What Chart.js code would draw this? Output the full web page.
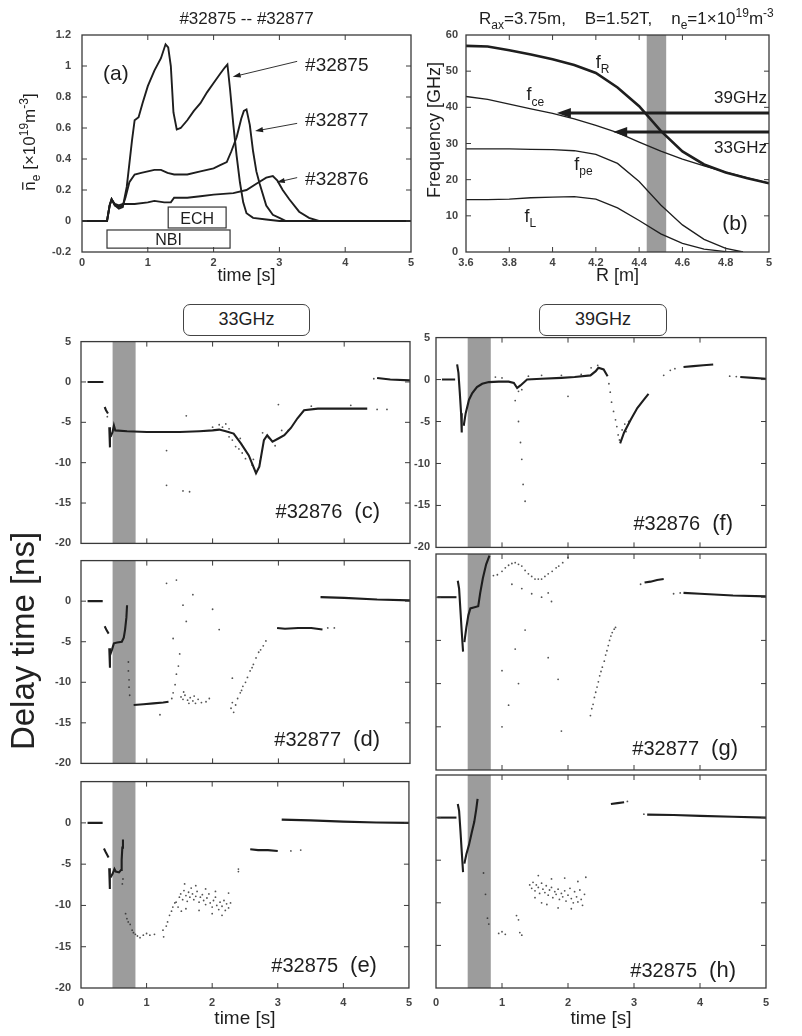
<!DOCTYPE html>
<html>
<head>
<meta charset="utf-8">
<script src="https://cdn.jsdelivr.net/npm/chart.js@4.4.1/dist/chart.umd.min.js"></script>
<style>
  body { margin: 0; background: #fff; width: 802px; height: 1036px; position: relative; overflow: hidden;
         font-family: "Liberation Sans", Arial, sans-serif; color: #222; }
  canvas { position: absolute; }
  .tag { position: absolute; box-sizing: border-box; border: 1.5px solid #444; border-radius: 7px;
         text-align: center; font-size: 18px; line-height: 28px; background: #fff; }
  #delay { position: absolute; width: 260px; height: 40px; line-height: 40px; text-align: center;
           font-size: 33px; left: -107px; top: 621px; transform: rotate(-90deg); }
</style>
</head>
<body>
<canvas id="pa"></canvas>
<canvas id="pb"></canvas>
<canvas id="pc"></canvas>
<canvas id="pd"></canvas>
<canvas id="pe"></canvas>
<canvas id="pf"></canvas>
<canvas id="pg"></canvas>
<canvas id="ph"></canvas>
<div class="tag" style="left:183px;top:304px;width:127px;height:32px;">33GHz</div>
<div class="tag" style="left:539px;top:304px;width:128px;height:32px;">39GHz</div>
<div id="delay">Delay time [ns]</div>
<script>
// ---- (a) line averaged density, time [s] / 10^19 m^-3
const t32875 = [0, 0.38, 0.42, 0.45, 0.5, 0.56, 0.62, 0.68, 0.76, 0.8, 0.86, 0.92, 1.0, 1.1, 1.2, 1.27, 1.31, 1.35, 1.39, 1.44, 1.5, 1.6, 1.7, 1.8, 1.9, 2.0, 2.1, 2.17, 2.21, 2.25, 2.3, 2.35, 2.4, 2.45, 2.5, 2.6, 2.8, 3.0, 5.0];
const ne32875 = [0, 0, 0.1, 0.14, 0.1, 0.08, 0.09, 0.22, 0.52, 0.65, 0.67, 0.76, 0.87, 0.97, 1.05, 1.14, 1.12, 1.0, 0.7, 0.59, 0.6, 0.65, 0.71, 0.76, 0.83, 0.89, 0.95, 0.99, 1.01, 0.85, 0.62, 0.42, 0.25, 0.12, 0.05, 0.02, 0.01, 0, 0];
const t32877 = [0, 0.38, 0.42, 0.45, 0.5, 0.56, 0.62, 0.66, 0.72, 0.8, 0.9, 1.0, 1.1, 1.2, 1.3, 1.4, 1.6, 1.8, 2.0, 2.1, 2.2, 2.27, 2.35, 2.42, 2.46, 2.5, 2.55, 2.6, 2.65, 2.7, 2.8, 2.9, 3.0, 3.1, 5.0];
const ne32877 = [0, 0, 0.1, 0.14, 0.1, 0.09, 0.1, 0.15, 0.25, 0.3, 0.31, 0.32, 0.33, 0.33, 0.31, 0.3, 0.3, 0.32, 0.34, 0.36, 0.38, 0.45, 0.54, 0.66, 0.71, 0.72, 0.62, 0.45, 0.32, 0.24, 0.1, 0.04, 0.02, 0, 0];
const t32876 = [0, 0.38, 0.42, 0.45, 0.5, 0.56, 0.62, 0.8, 1.0, 1.1, 1.25, 1.35, 1.4, 1.6, 1.8, 2.0, 2.3, 2.5, 2.65, 2.8, 2.9, 2.97, 3.05, 3.15, 3.3, 3.45, 3.6, 5.0];
const ne32876 = [0, 0, 0.1, 0.14, 0.11, 0.1, 0.11, 0.11, 0.12, 0.13, 0.12, 0.12, 0.15, 0.15, 0.16, 0.17, 0.18, 0.2, 0.24, 0.28, 0.29, 0.26, 0.2, 0.14, 0.06, 0.02, 0, 0];
const echOn = [1.31, 2.19];
const nbiOn = [0.38, 2.25];

// ---- (b) characteristic frequencies vs R [m]
const rOuter = [3.6, 3.7, 3.8, 3.9, 4.0, 4.1, 4.2, 4.3, 4.4, 4.5, 4.6, 4.7, 4.8, 4.9, 5.0];
const fR  = [57, 56.8, 55.8, 54.6, 53.3, 51.7, 49.5, 45.5, 40.3, 33.5, 27.8, 24.2, 22.0, 20.4, 19.0];
const fce = [43, 42.2, 40.9, 39.6, 38.3, 36.8, 35.0, 33.0, 30.4, 27.9, 25.7, 23.8, 22.1, 20.5, 19.0];
const rInner = [3.6, 3.7, 3.8, 3.9, 4.0, 4.1, 4.2, 4.3, 4.4, 4.5, 4.6, 4.7, 4.8, 4.88];
const fpe = [28.5, 28.5, 28.5, 28.4, 28.3, 28.0, 27.0, 24.5, 19.5, 13.0, 7.5, 3.5, 1.0, 0.0];
const fL  = [14.5, 14.5, 14.6, 15.0, 15.2, 15.3, 14.6, 12.2, 8.7, 5.0, 2.4, 0.8, 0.1, 0.0];
const probeFreq = [38.4, 33.2];
const probeName = ['39GHz', '33GHz'];
const cutoffR = [4.02, 4.28];
const layerR = [4.435, 4.525];

// ---- (c)-(h) delay time [ns] vs time [s]
const ecrWindow = [0.48, 0.83];

const tracesC = [
  [[0.1, 0], [0.34, 0]],
  [[0.36, -3.1], [0.38, -3.5], [0.41, -3.9]],
  [[0.43, -5.6], [0.44, -8.1]],
  [[0.45, -6.8], [0.48, -6.2], [0.5, -5.4], [0.52, -6.0], [0.7, -6.1], [1.0, -6.2], [1.3, -6.2], [1.5, -6.2], [1.8, -6.1], [2.0, -6.0], [2.1, -5.9], [2.2, -6.1], [2.32, -6.4], [2.43, -7.6], [2.55, -9.1], [2.66, -11.3], [2.71, -10.5], [2.78, -7.2], [2.83, -6.6], [2.91, -7.4], [3.0, -7.0], [3.09, -6.6], [3.19, -5.7], [3.29, -4.5], [3.39, -3.5], [3.6, -3.3], [4.0, -3.3], [4.35, -3.3]],
  [[4.5, 0.5], [4.7, 0.3], [5.0, 0.2]]
];
const cloudC = [[2.1, -5.3], [2.15, -5.6], [2.2, -5.2], [2.25, -6.8], [2.3, -7.2], [2.35, -8.0], [2.4, -8.3], [2.42, -7.0], [2.5, -9.5], [2.6, -10.3], [2.72, -9.8], [2.76, -6.3], [2.85, -6.9], [2.95, -7.9], [3.05, -6.0], [1.3, -8.5], [1.3, -12.8], [1.55, -13.5], [1.65, -13.6], [1.6, -4.2], [4.5, -3.4], [4.65, -3.4], [3.0, -2.8], [3.5, -3.0], [4.1, -2.9], [0.4, -4.3], [2.0, -5.6], [2.25, -5.8], [2.45, -8.8], [2.62, -9.6], [3.15, -6.0], [4.45, 0.4]];

const tracesD = [
  [[0.1, 0], [0.33, 0]],
  [[0.36, -3.1], [0.39, -3.6], [0.42, -4.0]],
  [[0.43, -5.8], [0.44, -8.2]],
  [[0.44, -6.7], [0.47, -6.0], [0.5, -5.2], [0.55, -5.1], [0.62, -5.0], [0.65, -4.5], [0.67, -3.5], [0.69, -2.0], [0.7, -0.5]],
  [[0.8, -12.8], [0.95, -12.7], [1.1, -12.6], [1.25, -12.5], [1.33, -12.4]],
  [[2.98, -3.3], [3.1, -3.4], [3.3, -3.3], [3.5, -3.3], [3.67, -3.5]],
  [[3.64, 0.5], [4.0, 0.4], [4.5, 0.2], [5.0, 0.1]]
];
const cloudD = [[0.72, -7.5], [0.72, -8.6], [0.73, -9.7], [0.73, -10.6], [0.74, -11.6], [1.38, -12.0], [1.4, -11.3], [1.43, -10.3], [1.45, -9.0], [1.48, -8.0], [1.52, -11.8], [1.55, -12.1], [1.58, -11.6], [1.62, -12.2], [1.66, -11.9], [1.7, -12.3], [1.74, -12.6], [1.78, -12.1], [1.83, -12.5], [1.9, -12.4], [1.56, -11.2], [1.64, -12.6], [1.72, -11.7],
  [2.28, -13.2], [2.32, -13.7], [2.35, -12.8], [2.38, -12.0], [2.42, -11.3], [2.46, -10.5], [2.5, -10.0], [2.53, -9.4], [2.57, -8.6], [2.62, -7.8], [2.66, -7.0], [2.7, -6.3], [2.73, -6.0], [2.77, -5.5], [2.81, -4.9], [2.3, -12.5], [2.44, -11.0], [2.6, -8.2],
  [1.3, 2.2], [1.45, 2.6], [1.55, -0.5], [1.6, -2.5], [1.7, 0.8], [2.0, -1.0], [1.4, -4.6], [1.5, -6.5], [2.1, -3.5], [2.3, -9.5], [1.95, -12.0], [1.2, -14.0], [3.75, -3.3], [3.85, -3.3]];

const tracesE = [
  [[0.1, 0], [0.33, 0]],
  [[0.35, -3.1], [0.38, -3.6], [0.42, -4.2]],
  [[0.43, -5.5], [0.44, -8.0]],
  [[0.45, -6.6], [0.48, -6.2], [0.51, -5.6], [0.53, -5.9], [0.58, -6.0], [0.61, -5.7], [0.62, -4.5], [0.63, -3.0], [0.64, -2.0]],
  [[2.58, -3.2], [2.7, -3.3], [2.85, -3.3], [3.0, -3.4]],
  [[3.06, 0.4], [3.5, 0.3], [4.0, 0.15], [4.5, 0.05], [5.0, 0.0]]
];
const cloudE = [[0.63, -7.4], [0.64, -6.8], [0.68, -11.0], [0.7, -11.6], [0.72, -12.0], [0.75, -12.3], [0.78, -13.0], [0.8, -13.3], [0.83, -13.5], [0.86, -13.7], [0.9, -13.9], [0.95, -13.6], [1.0, -13.4], [1.05, -13.6], [1.12, -13.5], [1.25, -13.0], [1.26, -13.8], [1.3, -12.5], [1.32, -12.0], [1.35, -11.2], [1.38, -10.7], [1.4, -10.2], [1.43, -9.7],
  [1.45, -9.6], [1.48, -10.2], [1.5, -9.0], [1.52, -8.6], [1.55, -9.3], [1.57, -8.2], [1.6, -8.8], [1.62, -9.5], [1.64, -8.4], [1.66, -9.0], [1.68, -7.9], [1.7, -8.6], [1.72, -9.3], [1.75, -8.9], [1.77, -8.3], [1.8, -9.6], [1.82, -9.0], [1.85, -8.7], [1.87, -9.4], [1.9, -9.9], [1.92, -9.1], [1.95, -8.6], [1.97, -9.7], [2.0, -10.2], [2.02, -9.4], [2.05, -9.0], [2.07, -10.0], [2.1, -10.5], [2.12, -9.6], [2.15, -10.1], [2.18, -9.4], [2.2, -10.6], [2.22, -9.8], [2.25, -10.3], [2.28, -9.7], [1.58, -7.4], [1.75, -7.6], [1.9, -8.0], [2.05, -8.3], [2.25, -8.5], [1.6, -10.4], [1.8, -10.6], [2.0, -11.0], [1.53, -10.7], [2.15, -11.2],
  [2.4, -5.6], [2.4, -5.9], [3.2, -3.4], [3.35, -3.3]];

const tracesF = [
  [[0.09, 0], [0.29, 0]],
  [[0.32, 1.8], [0.34, 0.8], [0.36, -1.5], [0.38, -4.0], [0.39, -6.3]],
  [[0.42, -5.5], [0.45, -4.0], [0.5, -2.4], [0.55, -1.6], [0.62, -0.9], [0.7, -0.5], [0.8, -0.3], [0.95, -0.25], [1.1, -0.25], [1.18, -0.4], [1.23, -1.0], [1.28, -0.7], [1.38, 0.0], [1.6, 0.1], [1.9, 0.2], [2.1, 0.3], [2.34, 0.5], [2.42, 1.0], [2.46, 1.4], [2.54, 1.2], [2.6, 0.4]],
  [[2.79, -7.6], [2.85, -6.3], [2.95, -4.8], [3.05, -3.4], [3.15, -2.4], [3.22, -1.7]],
  [[3.75, 1.5], [3.9, 1.6], [4.05, 1.7], [4.2, 1.8]],
  [[4.61, 0.3], [4.8, 0.2], [5.0, 0.1]]
];
const cloudF = [[2.62, -0.5], [2.64, -1.5], [2.66, -2.7], [2.69, -3.8], [2.72, -4.8], [2.74, -5.6], [2.76, -6.6], [2.78, -7.2], [2.82, -6.0], [2.86, -5.3], [2.88, -6.2], [2.92, -5.0], [3.45, 0.5], [3.55, 1.1], [3.62, 1.3],
  [1.25, -5.0], [1.28, -7.5], [1.3, -9.5], [1.32, -12.5], [1.35, -14.5], [1.2, -2.5], [2.0, -2.0], [0.9, 0.3], [1.0, 0.2], [1.4, 0.4], [1.6, 0.5], [1.9, 0.5], [2.2, 0.6], [2.35, 1.4], [2.45, 1.7], [4.45, 0.4], [4.55, 0.35], [1.25, -1.4], [1.3, -1.2]];

const tracesG = [
  [[0.02, 0], [0.31, 0]],
  [[0.33, 1.9], [0.35, 1.0], [0.37, -1.5], [0.39, -4.0], [0.41, -6.3]],
  [[0.43, -5.2], [0.46, -3.5], [0.49, -2.1], [0.52, -1.3], [0.57, -1.2], [0.64, -1.05], [0.67, 0.5], [0.71, 2.2], [0.76, 3.8], [0.81, 4.8]],
  [[3.16, 1.7], [3.25, 1.8], [3.35, 2.0], [3.45, 2.1]],
  [[3.75, 0.5], [4.0, 0.4], [4.5, 0.2], [5.0, 0.1]]
];
const cloudG = [[0.87, 2.5], [0.93, 2.6], [1.0, 3.0], [1.05, 3.4], [1.1, 3.7], [1.15, 3.9], [1.2, 4.0], [1.25, 3.8], [1.3, 3.6], [1.35, 3.1], [1.4, 2.7], [1.45, 2.4], [1.5, 2.1], [1.55, 2.1], [1.6, 2.1], [1.65, 2.4], [1.7, 2.7], [1.76, 3.0], [1.82, 3.4], [1.86, 3.6], [1.92, 4.0], [2.0, 4.6], [1.15, 1.5], [1.3, 1.0], [1.45, 0.4], [1.6, 0.0], [1.75, -0.5],
  [1.0, -8.5], [1.2, -6.0], [1.35, -3.8], [1.7, -7.0], [1.85, -9.5], [1.25, -10.0], [1.1, -12.5], [1.0, -15.0], [1.9, -15.5], [1.7, 0.5],
  [2.34, -13.7], [2.36, -12.9], [2.38, -12.4], [2.4, -11.6], [2.42, -11.0], [2.44, -10.4], [2.46, -9.8], [2.48, -9.1], [2.5, -8.6], [2.52, -8.1], [2.55, -7.4], [2.57, -6.7], [2.59, -6.2], [2.61, -5.6], [2.63, -5.0], [2.65, -4.5], [2.67, -4.1], [2.7, -3.7], [2.72, -3.5], [3.1, 1.5], [3.6, 0.4], [3.7, 0.5]];

const tracesH = [
  [[0.02, 0], [0.31, 0]],
  [[0.33, 1.6], [0.35, 0.8], [0.37, -1.5], [0.39, -4.0], [0.41, -6.4]],
  [[0.43, -5.4], [0.46, -4.3], [0.5, -3.2], [0.54, -1.8], [0.58, -0.5], [0.61, 1.0], [0.63, 2.2]],
  [[2.65, 1.6], [2.75, 1.7], [2.85, 1.8]],
  [[3.2, 0.35], [3.6, 0.3], [4.0, 0.2], [4.5, 0.1], [5.0, 0.0]]
];
const cloudH = [[1.42, -7.9], [1.45, -8.3], [1.47, -7.6], [1.5, -8.6], [1.52, -7.9], [1.55, -8.2], [1.57, -8.9], [1.6, -7.7], [1.62, -8.4], [1.65, -8.8], [1.67, -8.0], [1.7, -9.1], [1.72, -8.5], [1.75, -8.2], [1.77, -9.4], [1.8, -8.7], [1.82, -9.0], [1.85, -8.4], [1.87, -9.6], [1.9, -8.9], [1.92, -9.3], [1.95, -8.6], [1.97, -9.8], [2.0, -9.1], [2.03, -8.3], [2.05, -9.5], [2.08, -10.0], [2.1, -8.7], [2.13, -9.3], [2.15, -9.9], [2.18, -8.5], [2.2, -9.6], [2.22, -10.3], [2.25, -9.0], [1.55, -6.8], [1.75, -7.2], [1.95, -7.1], [2.15, -7.5], [2.27, -7.0], [1.6, -10.0], [1.85, -10.6], [2.05, -10.7], [1.5, -9.4], [1.68, -10.2],
  [0.78, -11.8], [0.8, -12.5], [0.95, -13.6], [1.0, -13.4], [1.05, -13.7], [1.25, -12.0], [1.27, -13.5], [1.3, -13.8], [1.22, -11.5], [0.72, -6.5], [0.75, -9.0], [2.9, 1.9], [3.15, 0.4]];

// ---------------------------------------------------------------
const ink = '#1e1e1e';
const fam = '"Liberation Sans", Arial, sans-serif';
const tickFont = { family: fam, size: 11, weight: 'bold' };
const fmt = v => String(+Number(v).toFixed(2));

function xy(xs, ys) { return xs.map((x, i) => ({ x, y: ys[i] })); }
function lineSet(data, width) {
  return { data, showLine: true, borderColor: ink, borderWidth: width, pointRadius: 0, tension: 0 };
}
function traceSets(traces) { return traces.map(tr => lineSet(tr.map(([x, y]) => ({ x, y })), 2.1)); }
function cloudSet(pts) {
  return { data: pts.map(([x, y]) => ({ x, y })), showLine: false, pointRadius: 0.9,
           backgroundColor: 'rgba(40,40,40,0.8)', borderWidth: 0 };
}

function rich(ctx, parts, x, y, size, align) {
  const small = Math.round(size * 0.68);
  const sz = k => (k === 'sub' || k === 'sup') ? small : size;
  let w = 0;
  parts.forEach(([t, k]) => { ctx.font = sz(k) + 'px ' + fam; w += ctx.measureText(t).width; });
  let cx = align === 'center' ? x - w / 2 : align === 'right' ? x - w : x;
  ctx.textAlign = 'left'; ctx.textBaseline = 'alphabetic';
  parts.forEach(([t, k]) => {
    ctx.font = sz(k) + 'px ' + fam;
    const dy = k === 'sub' ? size * 0.3 : k === 'sup' ? -size * 0.42 : 0;
    ctx.fillText(t, cx, y + dy);
    const tw = ctx.measureText(t).width;
    if (k === 'bar') {
      ctx.beginPath(); ctx.lineWidth = 1.3;
      ctx.moveTo(cx + 1, y - size * 0.72); ctx.lineTo(cx + tw - 1, y - size * 0.72); ctx.stroke();
    }
    cx += tw;
  });
}

function arrow(ctx, x0, y0, x1, y1, head, half, width) {
  ctx.lineWidth = width;
  const ang = Math.atan2(y1 - y0, x1 - x0);
  ctx.beginPath(); ctx.moveTo(x0, y0); ctx.lineTo(x1 - Math.cos(ang) * head * 0.8, y1 - Math.sin(ang) * head * 0.8); ctx.stroke();
  ctx.beginPath(); ctx.moveTo(x1, y1);
  ctx.lineTo(x1 - head * Math.cos(ang) + half * Math.sin(ang), y1 - head * Math.sin(ang) - half * Math.cos(ang));
  ctx.lineTo(x1 - head * Math.cos(ang) - half * Math.sin(ang), y1 - head * Math.sin(ang) + half * Math.cos(ang));
  ctx.closePath(); ctx.fill();
}

function frame(o) {
  return {
    id: 'frame',
    beforeDatasetsDraw(chart) {
      if (!o.band) return;
      const { ctx, chartArea: a, scales: { x } } = chart;
      const x0 = x.getPixelForValue(o.band[0]), x1 = x.getPixelForValue(o.band[1]);
      ctx.save(); ctx.fillStyle = '#9c9c9c';
      ctx.fillRect(x0, a.top, x1 - x0, a.bottom - a.top); ctx.restore();
    },
    afterDraw(chart) {
      const { ctx, chartArea: a, scales: { x, y } } = chart;
      ctx.save();
      ctx.strokeStyle = '#3a3a3a'; ctx.lineWidth = 1.3;
      ctx.strokeRect(a.left, a.top, a.right - a.left, a.bottom - a.top);
      ctx.lineWidth = 1; ctx.beginPath();
      x.ticks.forEach(t => {
        const p = x.getPixelForValue(t.value);
        if (p < a.left + 2 || p > a.right - 2) return;
        ctx.moveTo(p, a.bottom); ctx.lineTo(p, a.bottom - 5);
        ctx.moveTo(p, a.top); ctx.lineTo(p, a.top + 5);
      });
      y.ticks.forEach(t => {
        const p = y.getPixelForValue(t.value);
        if (p < a.top + 2 || p > a.bottom - 2) return;
        ctx.moveTo(a.left, p); ctx.lineTo(a.left + 5, p);
        ctx.moveTo(a.right, p); ctx.lineTo(a.right - 5, p);
      });
      ctx.stroke();
      ctx.fillStyle = ink; ctx.strokeStyle = ink;
      if (o.draw) o.draw(chart, ctx, a, x, y);
      ctx.restore();
    }
  };
}

function makeChart(id, box, plot, datasets, xs, ys, deco) {
  const cv = document.getElementById(id);
  cv.width = box.w; cv.height = box.h;
  cv.style.left = box.x + 'px'; cv.style.top = box.y + 'px';
  const yw = plot.l - box.x, xh = box.y + box.h - plot.b;
  return new Chart(cv, {
    type: 'scatter',
    data: { datasets },
    options: {
      responsive: false, animation: false, events: [],
      layout: { padding: { top: plot.t - box.y, right: box.x + box.w - plot.r, bottom: 0, left: 0 } },
      plugins: { legend: { display: false }, tooltip: { enabled: false } },
      scales: {
        x: {
          type: 'linear', min: xs.min, max: xs.max,
          grid: { display: false, drawTicks: false }, border: { display: false },
          ticks: { stepSize: xs.step, display: xs.show, padding: xs.pad, color: '#444', font: tickFont,
                   maxRotation: 0, autoSkip: false, callback: v => fmt(v) },
          afterFit: s => { s.height = xh; }
        },
        y: {
          type: 'linear', min: ys.min, max: ys.max,
          grid: { display: false, drawTicks: false }, border: { display: false },
          ticks: { stepSize: ys.step, display: ys.show, padding: ys.pad, color: '#444', font: tickFont,
                   autoSkip: false, callback: v => (ys.hide && ys.hide.includes(v)) ? '' : fmt(v) },
          afterFit: s => { s.width = yw; }
        }
      }
    },
    plugins: [frame(deco)]
  });
}

// ---- panel (a)
makeChart('pa', { x: 0, y: 0, w: 420, h: 290 }, { l: 82, t: 35, r: 411, b: 252 },
  [lineSet(xy(t32875, ne32875), 1.9), lineSet(xy(t32877, ne32877), 1.9), lineSet(xy(t32876, ne32876), 1.9)],
  { min: 0, max: 5, step: 1, show: true, pad: 4 },
  { min: -0.2, max: 1.2, step: 0.2, show: true, pad: 11 },
  { draw(chart, ctx, a, x, y) {
      rich(ctx, [['#32875 -- #32877', '']], (a.left + a.right) / 2, 24, 17, 'center');
      rich(ctx, [['time [s]', '']], (a.left + a.right) / 2, 281, 18, 'center');
      ctx.save(); ctx.translate(35, 142); ctx.rotate(-Math.PI / 2);
      rich(ctx, [['n', 'bar'], ['e', 'sub'], [' [×10', ''], ['19', 'sup'], ['m', ''], ['-3', 'sup'], [']', '']], 0, 0, 17, 'center');
      ctx.restore();
      rich(ctx, [['(a)', '']], x.getPixelForValue(0.32), y.getPixelForValue(0.91), 21, 'left');
      // ECH / NBI boxes
      ctx.lineWidth = 1.2; ctx.strokeStyle = '#333';
      const ex0 = x.getPixelForValue(echOn[0]), ex1 = x.getPixelForValue(echOn[1]);
      const ey0 = y.getPixelForValue(0.09), ey1 = y.getPixelForValue(-0.045);
      ctx.strokeRect(ex0, ey0, ex1 - ex0, ey1 - ey0);
      rich(ctx, [['ECH', '']], (ex0 + ex1) / 2, (ey0 + ey1) / 2 + 6, 16, 'center');
      const nx0 = x.getPixelForValue(nbiOn[0]), nx1 = x.getPixelForValue(nbiOn[1]);
      const ny0 = y.getPixelForValue(-0.058), ny1 = y.getPixelForValue(-0.175);
      ctx.strokeRect(nx0, ny0, nx1 - nx0, ny1 - ny0);
      rich(ctx, [['NBI', '']], (nx0 + nx1) / 2, (ny0 + ny1) / 2 + 6, 16, 'center');
      // shot labels with arrows
      [['#32875', 0.97, [3.27, 1.03, 2.29, 0.93]],
       ['#32877', 0.61, [3.27, 0.63, 2.63, 0.58]],
       ['#32876', 0.23, [3.27, 0.28, 2.96, 0.25]]].forEach(([lab, v, ar]) => {
        rich(ctx, [[lab, '']], x.getPixelForValue(3.39), y.getPixelForValue(v), 19, 'left');
        arrow(ctx, x.getPixelForValue(ar[0]), y.getPixelForValue(ar[1]), x.getPixelForValue(ar[2]), y.getPixelForValue(ar[3]), 8, 2.6, 1);
      });
  } });

// ---- panel (b)
makeChart('pb', { x: 420, y: 0, w: 382, h: 290 }, { l: 466, t: 35, r: 769, b: 252 },
  [lineSet(xy(rOuter, fR), 2.6), lineSet(xy(rOuter, fce), 1.3), lineSet(xy(rInner, fpe), 1.3), lineSet(xy(rInner, fL), 1.3)],
  { min: 3.6, max: 5, step: 0.2, show: true, pad: 4 },
  { min: 0, max: 60, step: 10, show: true, pad: 8 },
  { band: layerR,
    draw(chart, ctx, a, x, y) {
      rich(ctx, [['R', ''], ['ax', 'sub'], ['=3.75m,    B=1.52T,    n', ''], ['e', 'sub'], ['=1×10', ''], ['19', 'sup'], ['m', ''], ['-3', 'sup']], 59, 24, 17, 'left');
      rich(ctx, [['R [m]', '']], (a.left + a.right) / 2, 281, 18, 'center');
      ctx.save(); ctx.translate(20, 130); ctx.rotate(-Math.PI / 2);
      rich(ctx, [['Frequency [GHz]', '']], 0, 0, 18, 'center');
      ctx.restore();
      const px = x.getPixelForValue.bind(x), py = y.getPixelForValue.bind(y);
      rich(ctx, [['f', ''], ['R', 'sub']], px(4.20), py(50.9), 18, 'left');
      rich(ctx, [['f', ''], ['ce', 'sub']], px(3.88), py(42.0), 18, 'left');
      rich(ctx, [['f', ''], ['pe', 'sub']], px(4.10), py(22.7), 18, 'left');
      rich(ctx, [['f', ''], ['L', 'sub']], px(3.87), py(8.3), 18, 'left');
      rich(ctx, [['(b)', '']], px(4.843), py(6.1), 21, 'center');
      probeFreq.forEach((f, i) => {
        arrow(ctx, px(5), py(f), px(cutoffR[i]), py(f), 14, 5, 3);
      });
      rich(ctx, [[probeName[0], '']], a.right - 2, py(probeFreq[0]) - 10, 17, 'right');
      rich(ctx, [[probeName[1], '']], a.right - 2, py(probeFreq[1]) + 21, 17, 'right');
  } });

// ---- delay time panels
function shotLabel(shot, letter, rightGap, lift) {
  return (chart, ctx, a) => {
    rich(ctx, [[letter, '']], a.right - rightGap, a.bottom - lift, 22, 'right');
    ctx.font = '22px ' + fam;
    const lw = ctx.measureText(letter).width;
    rich(ctx, [[shot, '']], a.right - rightGap - lw - 12, a.bottom - lift, 20, 'right');
  };
}
function bottomTitle(draw) {
  return (chart, ctx, a, x, y) => {
    draw(chart, ctx, a, x, y);
    rich(ctx, [['time [s]', '']], (a.left + a.right) / 2, a.bottom + 36, 19, 'center');
  };
}

const xMid = { min: 0, max: 5, step: 1, show: false, pad: 8 };
const xBot = { min: 0, max: 5, step: 1, show: true, pad: 8 };

makeChart('pc', { x: 0, y: 325, w: 420, h: 235 }, { l: 81, t: 335, r: 410, b: 550 },
  [...traceSets(tracesC), cloudSet(cloudC)], xMid,
  { min: -20, max: 5, step: 5, show: true, pad: 10 },
  { band: ecrWindow, draw: shotLabel('#32876', '(c)', 30, 25) });
makeChart('pd', { x: 0, y: 544, w: 420, h: 236 }, { l: 81, t: 554, r: 410, b: 770 },
  [...traceSets(tracesD), cloudSet(cloudD)], xMid,
  { min: -20, max: 5, step: 5, show: true, pad: 10, hide: [5] },
  { band: ecrWindow, draw: shotLabel('#32877', '(d)', 30, 17) });
makeChart('pe', { x: 0, y: 765, w: 420, h: 271 }, { l: 81, t: 775, r: 410, b: 988 },
  [...traceSets(tracesE), cloudSet(cloudE)], xBot,
  { min: -20, max: 5, step: 5, show: true, pad: 10, hide: [5] },
  { band: ecrWindow, draw: bottomTitle(shotLabel('#32875', '(e)', 32, 16)) });
makeChart('pf', { x: 402, y: 325, w: 400, h: 235 }, { l: 436, t: 335, r: 766, b: 550 },
  [...traceSets(tracesF), cloudSet(cloudF)], xMid,
  { min: -20, max: 5, step: 5, show: true, pad: 6 },
  { band: ecrWindow, draw: shotLabel('#32876', '(f)', 33, 17) });
makeChart('pg', { x: 402, y: 544, w: 400, h: 236 }, { l: 436, t: 554, r: 766, b: 770 },
  [...traceSets(tracesG), cloudSet(cloudG)], xMid,
  { min: -20, max: 5, step: 5, show: false, pad: 6 },
  { band: ecrWindow, draw: shotLabel('#32877', '(g)', 28, 15) });
makeChart('ph', { x: 402, y: 765, w: 400, h: 271 }, { l: 436, t: 775, r: 766, b: 988 },
  [...traceSets(tracesH), cloudSet(cloudH)], xBot,
  { min: -20, max: 5, step: 5, show: false, pad: 6 },
  { band: ecrWindow, draw: bottomTitle(shotLabel('#32875', '(h)', 30, 11)) });
</script>
</body>
</html>
